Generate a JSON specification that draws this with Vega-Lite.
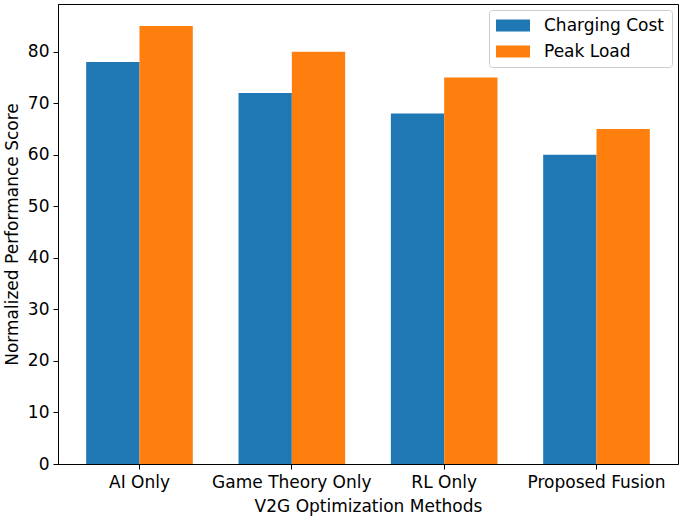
{
  "$schema": "https://vega.github.io/schema/vega-lite/v6.json",
  "width": 620,
  "height": 460,
  "autosize": {"type": "none"},
  "padding": {"left": 58, "top": 4, "right": 7, "bottom": 57},
  "background": "white",
  "config": {
    "font": "DejaVu Sans",
    "view": {"stroke": "black", "strokeWidth": 1}
  },
  "data": {
    "values": [
      {"method": "AI Only", "metric": "Charging Cost", "score": 78},
      {"method": "AI Only", "metric": "Peak Load", "score": 85},
      {"method": "Game Theory Only", "metric": "Charging Cost", "score": 72},
      {"method": "Game Theory Only", "metric": "Peak Load", "score": 80},
      {"method": "RL Only", "metric": "Charging Cost", "score": 68},
      {"method": "RL Only", "metric": "Peak Load", "score": 75},
      {"method": "Proposed Fusion", "metric": "Charging Cost", "score": 60},
      {"method": "Proposed Fusion", "metric": "Peak Load", "score": 65}
    ]
  },
  "mark": {"type": "bar"},
  "encoding": {
    "x": {
      "field": "method",
      "type": "nominal",
      "sort": null,
      "title": "V2G Optimization Methods",
      "scale": {"paddingInner": 0.3, "paddingOuter": 0.185},
      "axis": {
        "labelAngle": 0,
        "labelFontSize": 17,
        "titleFontSize": 17,
        "titleFontWeight": "normal",
        "labelColor": "black",
        "titleColor": "black",
        "domainColor": "black",
        "tickColor": "black",
        "tickSize": 5,
        "labelPadding": 5,
        "titlePadding": 8
      }
    },
    "xOffset": {"field": "metric", "type": "nominal", "scale": {"paddingInner": 0, "paddingOuter": 0}},
    "y": {
      "field": "score",
      "type": "quantitative",
      "title": "Normalized Performance Score",
      "scale": {"domain": [0, 89.25], "nice": false},
      "axis": {
        "values": [0, 10, 20, 30, 40, 50, 60, 70, 80],
        "grid": false,
        "labelFontSize": 17,
        "titleFontSize": 17,
        "titleFontWeight": "normal",
        "labelColor": "black",
        "titleColor": "black",
        "domainColor": "black",
        "tickColor": "black",
        "tickSize": 5,
        "labelPadding": 4,
        "titlePadding": 6
      }
    },
    "color": {
      "field": "metric",
      "type": "nominal",
      "scale": {"domain": ["Charging Cost", "Peak Load"], "range": ["#1f77b4", "#ff7f0e"]},
      "legend": {
        "title": null,
        "orient": "top-right",
        "offset": 6,
        "labelFontSize": 17,
        "labelColor": "black",
        "symbolType": "M-1,-0.7H3V0.7H-1Z",
        "symbolSize": 289,
        "symbolStrokeWidth": 0,
        "fillColor": "white",
        "strokeColor": "#cccccc",
        "cornerRadius": 3,
        "padding": 7,
        "rowPadding": 8,
        "labelOffset": 31
      }
    }
  }
}
